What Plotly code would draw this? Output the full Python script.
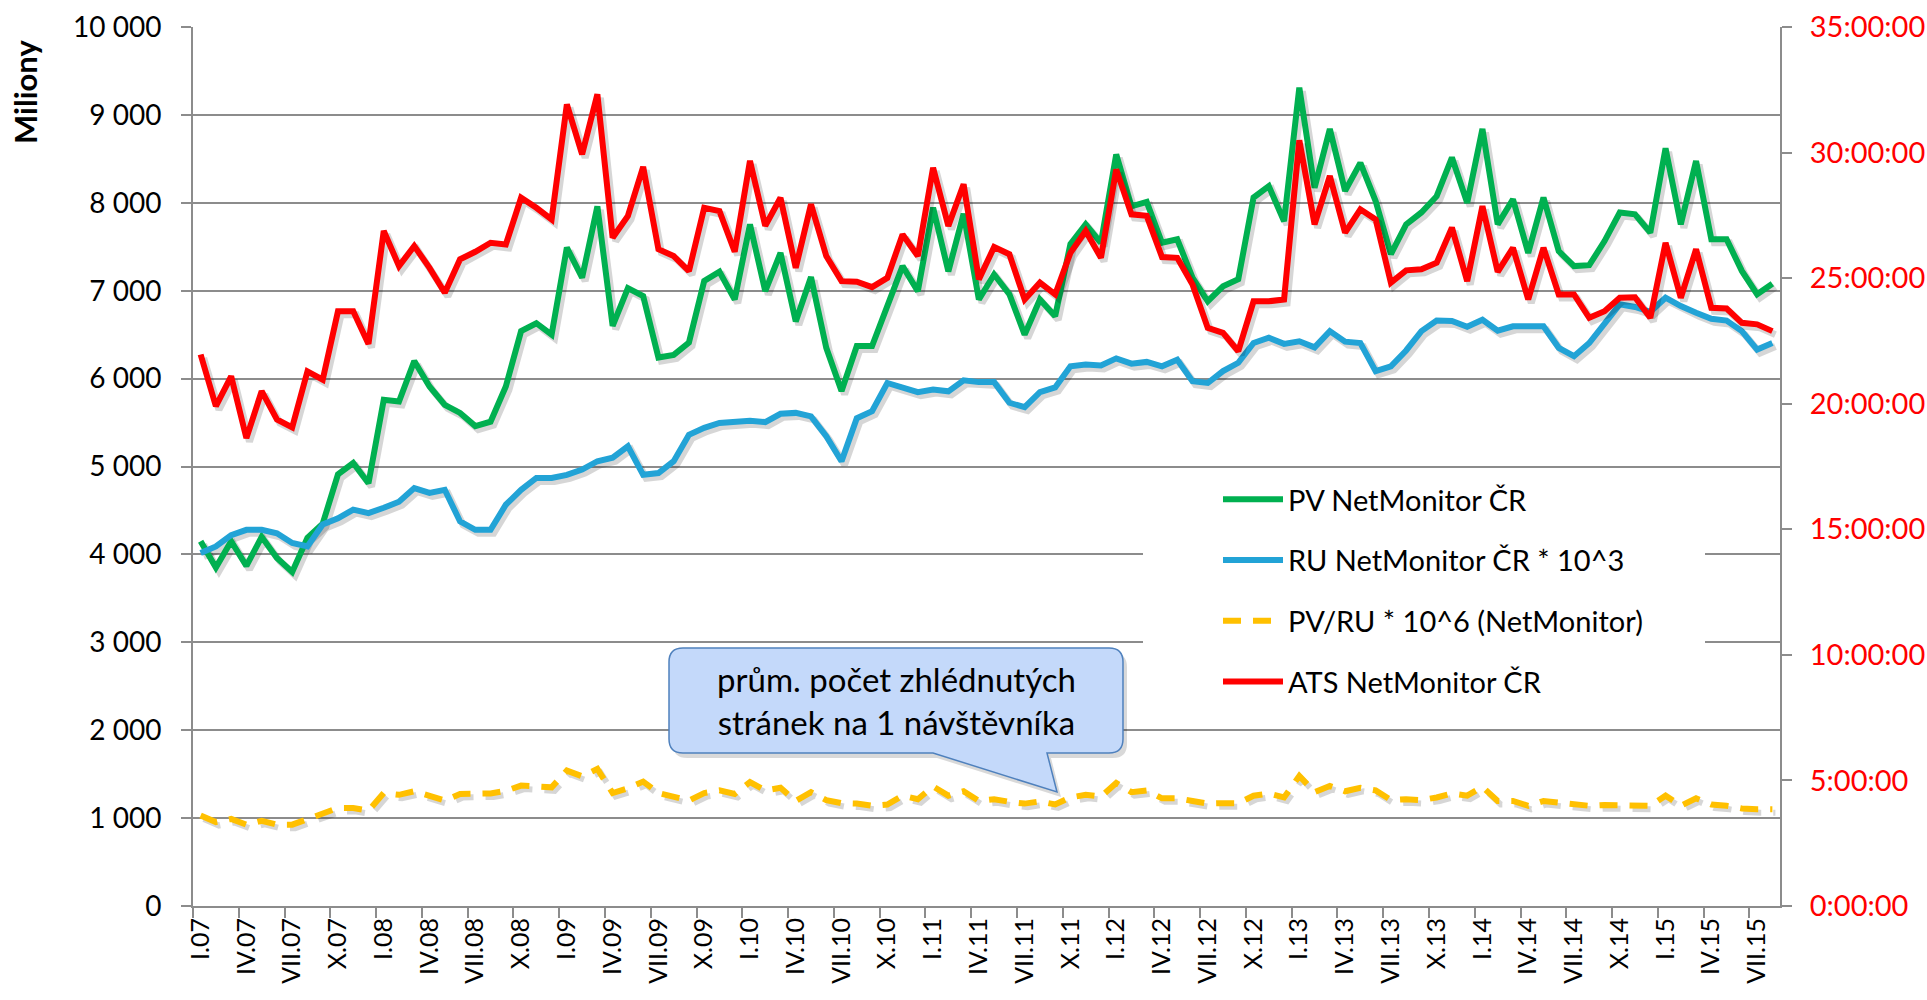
import plotly.graph_objects as go

# months I.07 .. VIII.15
romans = ["I", "II", "III", "IV", "V", "VI", "VII", "VIII", "IX", "X", "XI", "XII"]
months = [f"{romans[k % 12]}.{7 + k // 12:02d}" for k in range(104)]

# PV NetMonitor CR (millions)
pv = [4150, 3850, 4150, 3870, 4200, 3960, 3800, 4190, 4350, 4910,
      5040, 4810, 5760, 5740, 6200, 5910, 5700, 5610, 5460, 5510,
      5910, 6540, 6630, 6500, 7490, 7150, 7960, 6600, 7030, 6940,
      6240, 6270, 6410, 7110, 7215, 6900, 7755, 6995, 7430, 6650,
      7155, 6350, 5860, 6370, 6370, 6820, 7280, 6995, 7945, 7220,
      7875, 6900, 7185, 6960, 6500, 6900, 6710, 7530, 7755, 7545,
      8550, 7960, 8010, 7545, 7585, 7150, 6880, 7050, 7130, 8060,
      8190, 7790, 9310, 8170, 8840, 8135, 8455, 8020, 7415, 7755,
      7890, 8075, 8515, 8000, 8840, 7755, 8040, 7430, 8060, 7450,
      7280, 7290, 7565, 7890, 7870, 7660, 8620, 7755, 8475, 7585,
      7585, 7225, 6960, 7080]

# RU NetMonitor CR * 10^3
ru = [4015, 4090, 4220, 4280, 4280, 4240, 4130, 4090, 4340, 4410,
      4510, 4470, 4530, 4600, 4755, 4700, 4735, 4375, 4280, 4280,
      4565, 4735, 4870, 4870, 4905, 4965, 5060, 5100, 5230, 4905,
      4925, 5060, 5360, 5440, 5495, 5515, 5520, 5505, 5600, 5610,
      5570, 5345, 5060, 5550, 5630, 5950, 5900, 5845, 5875, 5855,
      5980, 5960, 5960, 5725, 5675, 5845, 5900, 6140, 6160, 6150,
      6230, 6170, 6190, 6140, 6215, 5970, 5950, 6085, 6180, 6405,
      6465, 6395, 6425, 6355, 6540, 6420, 6405, 6085, 6140, 6320,
      6540, 6660, 6655, 6590, 6670, 6545, 6595, 6595, 6595, 6350,
      6255, 6405, 6635, 6845, 6815, 6760, 6920, 6825, 6750, 6680,
      6660, 6540, 6330, 6405]

# PV/RU * 10^6 (NetMonitor)
pv_ru = [1030, 955, 990, 925, 970, 925, 925, 990, 1055, 1115,
         1115, 1085, 1285, 1265, 1305, 1255, 1200, 1275, 1275, 1280,
         1310, 1370, 1360, 1350, 1540, 1475, 1560, 1285, 1340, 1415,
         1285, 1245, 1200, 1285, 1315, 1275, 1410, 1315, 1345, 1195,
         1295, 1205, 1170, 1165, 1140, 1155, 1255, 1215, 1360, 1255,
         1305, 1195, 1215, 1185, 1165, 1190, 1155, 1235, 1265, 1245,
         1400, 1295, 1315, 1225, 1225, 1195, 1165, 1170, 1170, 1255,
         1280, 1235, 1480, 1295, 1365, 1305, 1345, 1315, 1205, 1215,
         1205, 1235, 1280, 1255, 1355, 1195, 1195, 1140, 1195, 1175,
         1155, 1140, 1150, 1150, 1155, 1140, 1255, 1140, 1225, 1155,
         1140, 1110, 1100, 1100]

# ATS NetMonitor CR (hours)
ats = [21.96, 19.90, 21.09, 18.63, 20.50, 19.37, 19.06, 21.29, 20.96, 23.68,
       23.68, 22.38, 26.88, 25.48, 26.28, 25.41, 24.42, 25.75, 26.05, 26.41,
       26.34, 28.20, 27.80, 27.34, 31.92, 29.93, 32.32, 26.61, 27.48, 29.43,
       26.15, 25.88, 25.28, 27.80, 27.67, 26.05, 29.67, 27.08, 28.20, 25.41,
       27.94, 25.88, 24.88, 24.86, 24.64, 25.01, 26.74, 25.88, 29.40, 27.08,
       28.74, 24.95, 26.24, 25.95, 24.15, 24.82, 24.35, 26.01, 26.88, 25.81,
       29.33, 27.54, 27.48, 25.84, 25.81, 24.75, 23.02, 22.82, 22.09, 24.08,
       24.08, 24.15, 30.49, 27.14, 29.07, 26.81, 27.74, 27.34, 24.82, 25.31,
       25.35, 25.61, 27.01, 24.88, 27.87, 25.25, 26.21, 24.15, 26.21, 24.35,
       24.35, 23.42, 23.68, 24.22, 24.24, 23.42, 26.41, 24.22, 26.15, 23.82,
       23.79, 23.22, 23.16, 22.89]

hour_ticks = [0, 5, 10, 15, 20, 25, 30, 35]

W, H = 1927, 1000
L, R, T, B = 193, 147, 27, 94
x = list(range(len(months)))
grey = "#8c8c8c"
font = "Lato"


def px2paper(px, py):
    return (px - L) / (W - L - R), (H - B - py) / (H - T - B)


fig = go.Figure()

# soft drop shadows under the lines
shadow = "rgba(0,0,0,0.16)"
sx = [v + 0.2 for v in x]
for vals in (pv, ru):
    fig.add_trace(go.Scatter(x=sx, y=[v - 40 for v in vals], mode="lines",
                             line=dict(color=shadow, width=7), hoverinfo="skip",
                             showlegend=False))
fig.add_trace(go.Scatter(x=sx, y=[v - 40 for v in pv_ru], mode="lines",
                         line=dict(color=shadow, width=6, dash="18px,12px"),
                         hoverinfo="skip", showlegend=False))
fig.add_trace(go.Scatter(x=sx, y=[v - 0.14 for v in ats], mode="lines",
                         line=dict(color=shadow, width=7), hoverinfo="skip",
                         showlegend=False, yaxis="y2"))

fig.add_trace(go.Scatter(x=x, y=pv, mode="lines", name="PV NetMonitor ČR",
                         legendgroup="a", line=dict(color="#00b050", width=6)))
fig.add_trace(go.Scatter(x=x, y=ru, mode="lines", name="RU NetMonitor ČR * 10^3",
                         legendgroup="b", line=dict(color="#22a3d6", width=6)))
fig.add_trace(go.Scatter(x=x, y=pv_ru, mode="lines", name="PV/RU * 10^6 (NetMonitor)",
                         legendgroup="c",
                         line=dict(color="#ffc000", width=6, dash="18px,12px")))
fig.add_trace(go.Scatter(x=x, y=ats, mode="lines", name="ATS NetMonitor ČR",
                         legendgroup="d", line=dict(color="#ff0000", width=6),
                         yaxis="y2"))

# white legend area hiding the gridlines
ax0, ay0 = px2paper(1143, 715)
ax1, ay1 = px2paper(1705, 470)
fig.add_shape(type="rect", xref="paper", yref="paper", x0=ax0, y0=ay0, x1=ax1, y1=ay1,
              fillcolor="white", line=dict(width=0), layer="above")

# callout bubble
bx0, by0, bx1, by1, r = 669, 648, 1123, 753, 14
pts = [("M", bx0 + r, by0), ("L", bx1 - r, by0), ("Q", bx1, by0, bx1, by0 + r),
       ("L", bx1, by1 - r), ("Q", bx1, by1, bx1 - r, by1),
       ("L", 1047, by1), ("L", 1057, 792), ("L", 933, by1),
       ("L", bx0 + r, by1), ("Q", bx0, by1, bx0, by1 - r),
       ("L", bx0, by0 + r), ("Q", bx0, by0, bx0 + r, by0)]


def bubble_path(dx=0, dy=0):
    out = []
    for p in pts:
        cmd, coords = p[0], p[1:]
        seg = []
        for k in range(0, len(coords), 2):
            a, b = px2paper(coords[k] + dx, coords[k + 1] + dy)
            seg.append(f"{a:.5f},{b:.5f}")
        out.append(cmd + " ".join(seg))
    return " ".join(out) + " Z"


fig.add_shape(type="path", path=bubble_path(4, 5), xref="paper", yref="paper",
              fillcolor="rgba(0,0,0,0.15)", line=dict(width=0), layer="above")
fig.add_shape(type="path", path=bubble_path(), xref="paper", yref="paper",
              fillcolor="#c4d9fa", line=dict(color="#4f81bd", width=1.5), layer="above")
cx, cy = px2paper((bx0 + bx1) / 2, (by0 + by1) / 2)
fig.add_annotation(text="prům. počet zhlédnutých<br>stránek na 1 návštěvníka",
                   x=cx, y=cy, xref="paper", yref="paper", showarrow=False,
                   xanchor="center", yanchor="middle",
                   font=dict(family=font, size=33, color="black"))

mx, my = px2paper(25, 92)
fig.add_annotation(text="<b>Miliony</b>", x=mx, y=my, xref="paper", yref="paper",
                   showarrow=False, textangle=-90, xanchor="center", yanchor="middle",
                   font=dict(family=font, size=31, color="black"))

lx, ly = px2paper(1218, 474)
fig.update_layout(
    width=W, height=H,
    margin=dict(l=L, r=R, t=T, b=B, pad=0, autoexpand=False),
    paper_bgcolor="white", plot_bgcolor="white",
    separators=", ",
    font=dict(family=font, color="black"),
    showlegend=True,
    legend=dict(x=lx, y=ly, xanchor="left", yanchor="top", bgcolor="white",
                font=dict(family=font, size=29), tracegroupgap=20, itemwidth=60),
    xaxis=dict(range=[-0.5, len(months) - 0.5], tickvals=x[::3], ticktext=months[::3],
               tickangle=-90, ticks="", showgrid=False, zeroline=False,
               showline=True, linecolor=grey, linewidth=2, automargin=False,
               tickfont=dict(family=font, size=25, color="black"),
               minor=dict(ticks="outside", ticklen=10, tickcolor=grey, tickwidth=2,
                          tick0=-0.5, dtick=3, showgrid=False)),
    yaxis=dict(range=[0, 10000], dtick=1000, tickformat=",d", showgrid=True,
               gridcolor=grey, gridwidth=1.5, zeroline=False, showline=True,
               linecolor=grey, linewidth=2, ticks="outside", ticklen=10,
               tickcolor=grey, tickwidth=2, ticklabelstandoff=14, automargin=False,
               tickfont=dict(family=font, size=28, color="black")),
    yaxis2=dict(range=[0, 35], overlaying="y", side="right", tickvals=hour_ticks,
                ticktext=[f"{h}:00:00" for h in hour_ticks], showgrid=False,
                zeroline=False, showline=True, linecolor=grey, linewidth=2,
                ticks="outside", ticklen=10, tickcolor=grey, tickwidth=2,
                ticklabelstandoff=12, automargin=False,
                tickfont=dict(family=font, size=29, color="#ff0000")),
)

fig.write_html("out.html", config={"displayModeBar": False},
               post_script="document.body.style.margin='0';")
